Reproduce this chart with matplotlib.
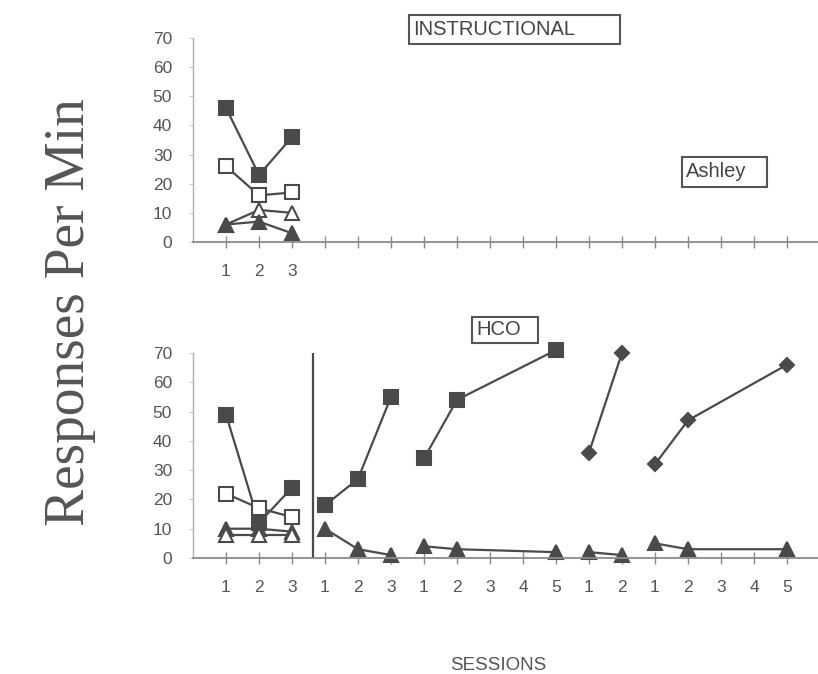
import matplotlib.pyplot as plt
from matplotlib.patches import Rectangle

plt.rcParams['font.family'] = ['Liberation Sans', 'DejaVu Sans']

# --- data ---
# top panel: Ashley, instructional condition, sessions 1-3
top_pos = [1, 2, 3]
top_filled_sq = [46, 23, 36]
top_open_sq = [26, 16, 17]
top_open_tri = [6, 11, 10]
top_filled_tri = [6, 7, 3]

# bottom panel: HCO condition, 18 session slots in five phases
bottom_labels = ['1', '2', '3', '1', '2', '3', '1', '2', '3', '4', '5',
                 '1', '2', '1', '2', '3', '4', '5']

base_pos = [1, 2, 3]
base_filled_sq = [49, 12, 24]
base_open_sq = [22, 17, 14]
base_filled_tri = [10, 10, 9]
base_open_tri = [8, 8, 8]

ph2_pos = [4, 5, 6]
ph2_sq = [18, 27, 55]
ph2_tri = [10, 3, 1]

ph3_pos = [7, 8, 11]
ph3_sq = [34, 54, 71]
ph3_tri = [4, 3, 2]

ph4_pos = [12, 13]
ph4_dia = [36, 70]
ph4_tri = [2, 1]

ph5_pos = [14, 15, 18]
ph5_dia = [32, 47, 66]
ph5_tri = [5, 3, 3]

phase_line = 3.65

dark = '#4a4a4a'
txt = '#555555'
W, H = 818, 674

fig = plt.figure(figsize=(W / 100, H / 100), dpi=100)


def px_axes(x0, y_top, y_bot):
    return fig.add_axes([x0 / W, 1 - y_bot / H, 1 - x0 / W, (y_bot - y_top) / H])


def style(ax, labels):
    ax.set_xlim(0, 18.94)
    ax.set_ylim(0, 70)
    ax.set_yticks(range(0, 71, 10))
    ax.set_xticks(range(1, 19))
    ax.set_xticklabels(labels)
    for s in ['top', 'right']:
        ax.spines[s].set_visible(False)
    ax.spines['bottom'].set_color('#8a8a8a')
    ax.spines['bottom'].set_linewidth(1.3)
    ax.spines['left'].set_color('#b0b0b0')
    ax.spines['left'].set_linewidth(1.0)
    ax.tick_params(axis='x', direction='inout', length=8, width=1, color='#888888',
                   labelsize=12.5, labelcolor=txt, pad=12)
    ax.tick_params(axis='y', direction='out', length=3, width=0.8, color='#cccccc',
                   labelsize=12.5, labelcolor=txt, pad=12)


def plot(ax, x, y, marker, filled=True, ms=9.5):
    ax.plot(x, y, color=dark, lw=1.6, marker=marker, ms=ms,
            mfc=dark if filled else 'white', mec=dark, mew=1.5, clip_on=False)


# top panel
ax1 = px_axes(193, 38, 242)
style(ax1, ['1', '2', '3'] + [''] * 15)
plot(ax1, top_pos, top_filled_sq, 's')
plot(ax1, top_pos, top_open_sq, 's', filled=False)
plot(ax1, top_pos, top_open_tri, '^', filled=False)
plot(ax1, top_pos, top_filled_tri, '^')

# bottom panel
ax2 = px_axes(193, 353, 558)
style(ax2, bottom_labels)
ax2.axvline(phase_line, color=dark, lw=1.6)
plot(ax2, base_pos, base_filled_sq, 's')
plot(ax2, base_pos, base_open_sq, 's', filled=False)
plot(ax2, base_pos, base_filled_tri, '^')
plot(ax2, base_pos, base_open_tri, '^', filled=False)
plot(ax2, ph2_pos, ph2_sq, 's')
plot(ax2, ph2_pos, ph2_tri, '^')
plot(ax2, ph3_pos, ph3_sq, 's')
plot(ax2, ph3_pos, ph3_tri, '^')
plot(ax2, ph4_pos, ph4_dia, 'D', ms=7.5)
plot(ax2, ph4_pos, ph4_tri, '^')
plot(ax2, ph5_pos, ph5_dia, 'D', ms=7.5)
plot(ax2, ph5_pos, ph5_tri, '^')


def label_box(text, x0, y0, x1, y1):
    fig.add_artist(Rectangle((x0 / W, 1 - y1 / H), (x1 - x0) / W, (y1 - y0) / H,
                             transform=fig.transFigure, fill=False,
                             edgecolor='#555555', lw=1.5))
    fig.text((x0 + 4) / W, 1 - (y0 + y1) / 2 / H, text, fontsize=14.5,
             color='#444444', ha='left', va='center')


label_box('INSTRUCTIONAL', 409, 15, 620, 44)
label_box('Ashley', 682, 157, 767, 187)
label_box('HCO', 472, 317, 538, 343)

fig.text(70 / W, 1 - 312 / H, 'Responses Per Min', rotation=90, fontsize=40,
         family='Liberation Serif', color='#555555', ha='center', va='center')
fig.text(498 / W, 1 - 665 / H, 'SESSIONS', fontsize=13.5, color=txt,
         ha='center', va='center')

fig.savefig('out.png', dpi=100)
